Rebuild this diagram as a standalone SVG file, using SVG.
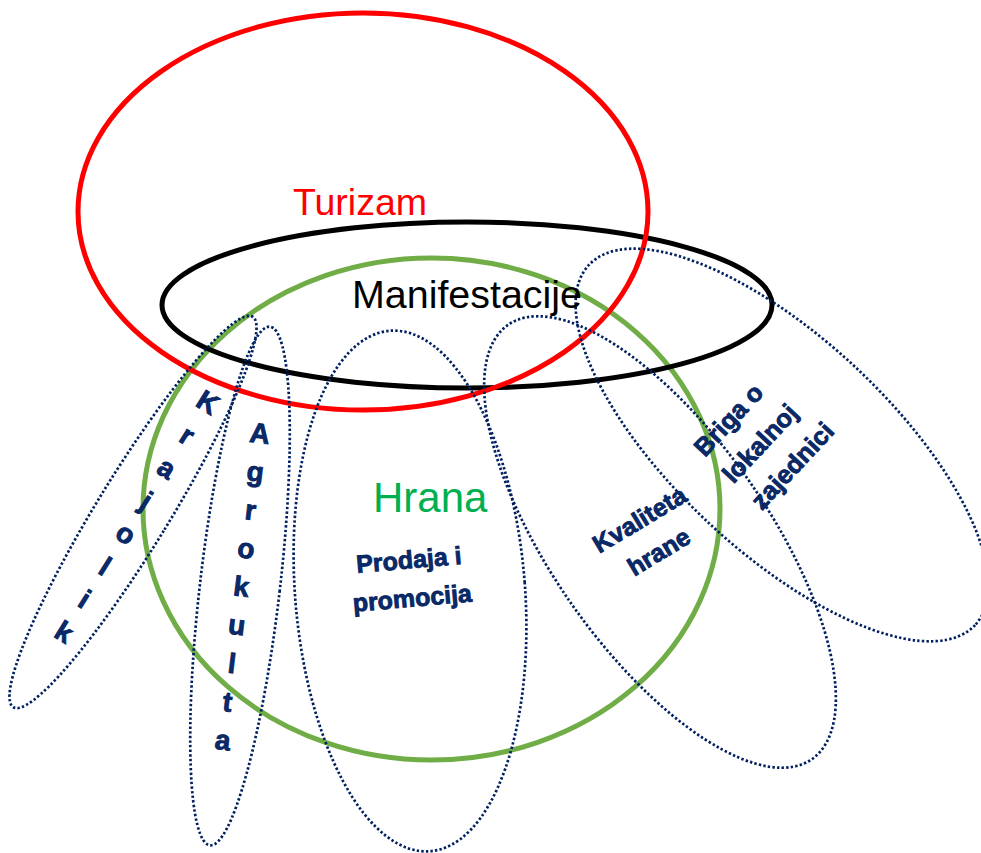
<svg xmlns="http://www.w3.org/2000/svg" width="981" height="853" viewBox="0 0 981 853">
<style>
.big{fill:none;stroke-width:5}
.dot{fill:none;stroke:#002060;stroke-width:2.7;stroke-dasharray:2.4 2.2}
.t{font-family:"Liberation Sans",Arial,sans-serif}
.lbl{font-family:"Liberation Sans",Arial,sans-serif;font-weight:bold;fill:#0b2a68;stroke:#002060;stroke-width:0.8}
</style>
<rect width="981" height="853" fill="#ffffff"/>
<g id="hrana">
<ellipse class="big" cx="431.5" cy="509" rx="288.5" ry="251" stroke="#70ad47"/>
</g>
<g id="manifestacije">
<ellipse class="big" cx="467" cy="305" rx="305" ry="83" stroke="#000000"/>
</g>
<g id="turizam">
<ellipse class="big" cx="363" cy="211.5" rx="285" ry="198.5" stroke="#ff0000"/>
</g>
<g id="krajolik">
<ellipse class="dot" cx="133" cy="512" rx="36" ry="229" transform="rotate(31.5 133 512)"/>
</g>
<g id="agrokulta">
<ellipse class="dot" cx="240" cy="586" rx="40" ry="261" transform="rotate(6.6 240 586)"/>
</g>
<g id="prodaja">
<ellipse class="dot" cx="410" cy="591" rx="115" ry="261" transform="rotate(-4.4 410 591)"/>
</g>
<g id="kvaliteta">
<ellipse class="dot" cx="660" cy="542" rx="108" ry="265" transform="rotate(-35 660 542)"/>
</g>
<g id="briga">
<ellipse class="dot" cx="782" cy="445" rx="264" ry="107" transform="rotate(43 782 445)"/>
</g>
<g id="labels">
<text class="t" x="293" y="215" font-size="37.5" fill="#ff0000">Turizam</text>
<text class="t" x="352" y="308" font-size="38" fill="#000000" textLength="230" lengthAdjust="spacingAndGlyphs">Manifestacije</text>
<text class="t" x="373" y="512" font-size="42" fill="#00b050">Hrana</text>
<text class="lbl" font-size="25" text-anchor="middle" transform="translate(409.6 568.4) rotate(-5)"><tspan x="0" y="0">Prodaja i</tspan><tspan x="0" y="38.4">promocija</tspan></text>
<text class="lbl" font-size="25" text-anchor="middle" transform="translate(644 527) rotate(-31)"><tspan x="0" y="0">Kvaliteta</tspan><tspan x="0" y="37.5">hrane</tspan></text>
<text class="lbl" font-size="25.5" transform="translate(705 458) rotate(-47)"><tspan x="0" y="0">Briga o</tspan><tspan x="0" y="39">lokalnoj</tspan><tspan x="0" y="78">zajednici</tspan></text>
<text class="lbl" font-size="28" text-anchor="middle" transform="translate(202.7 410.5) rotate(32)"><tspan x="0" y="0">K</tspan><tspan x="0" y="38.7">r</tspan><tspan x="0" y="77.4">a</tspan><tspan x="0" y="116.1">j</tspan><tspan x="0" y="154.8">o</tspan><tspan x="0" y="193.5">l</tspan><tspan x="0" y="232.2">i</tspan><tspan x="0" y="270.9">k</tspan></text>
<text class="lbl" font-size="28" text-anchor="middle" transform="translate(258.8 443) rotate(6.9)"><tspan x="0" y="0">A</tspan><tspan x="0" y="38.6">g</tspan><tspan x="0" y="77.2">r</tspan><tspan x="0" y="115.8">o</tspan><tspan x="0" y="154.4">k</tspan><tspan x="0" y="193">u</tspan><tspan x="0" y="231.6">l</tspan><tspan x="0" y="270.2">t</tspan><tspan x="0" y="308.8">a</tspan></text>
</g>
</svg>
